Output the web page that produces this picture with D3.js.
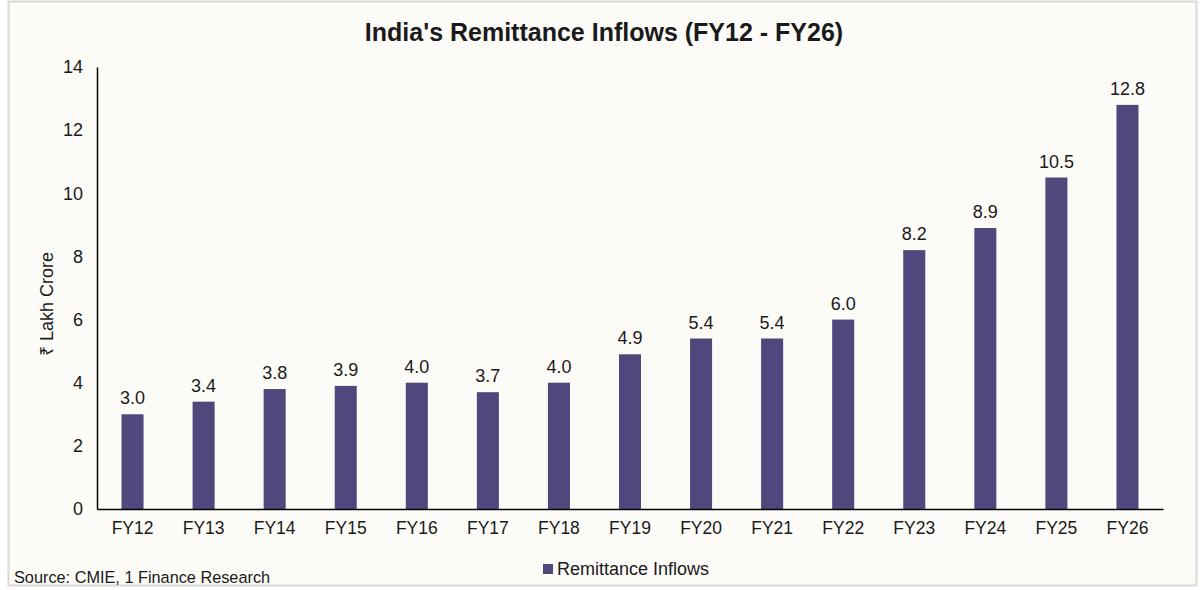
<!DOCTYPE html>
<html>
<head>
<meta charset="utf-8">
<script src="https://cdn.jsdelivr.net/npm/d3@7"></script>
<style>
  body { margin: 0; background: #fff; }
  text { font-family: "Liberation Sans", Arial, sans-serif; fill: #1a1a1a; }
</style>
</head>
<body>
<div id="chart"></div>
<script>
var years = ["FY12", "FY13", "FY14", "FY15", "FY16", "FY17", "FY18", "FY19", "FY20", "FY21", "FY22", "FY23", "FY24", "FY25", "FY26"];
var inflows = [3.0, 3.4, 3.8, 3.9, 4.0, 3.7, 4.0, 4.9, 5.4, 5.4, 6.0, 8.2, 8.9, 10.5, 12.8];
var yTicks = [0, 2, 4, 6, 8, 10, 12, 14];

var width = 1200, height = 590;
var margin = {top: 67, right: 37, bottom: 81, left: 97};
var barColor = "#50487c";

var svg = d3.select("#chart").append("svg")
    .attr("width", width)
    .attr("height", height);

// Frame
svg.append("rect")
    .attr("x", 8.5).attr("y", 1.5)
    .attr("width", 1188).attr("height", 584)
    .attr("fill", "#fcfbf7")
    .attr("stroke", "#d9d9d9")
    .attr("stroke-width", 2);

var x = d3.scaleBand()
    .domain(years)
    .range([margin.left, width - margin.right])
    .paddingInner(0.69)
    .paddingOuter(0.345);

var y = d3.scaleLinear()
    .domain([0, 14])
    .range([height - margin.bottom, margin.top]);

// Title
svg.append("text")
    .attr("x", 604).attr("y", 41)
    .attr("text-anchor", "middle")
    .style("font-size", "25px")
    .style("font-weight", "bold")
    .text("India's Remittance Inflows (FY12 - FY26)");

// Bars
svg.append("g").selectAll("rect")
    .data(inflows)
  .enter().append("rect")
    .attr("x", function(d, i) { return x(years[i]); })
    .attr("y", function(d) { return y(d); })
    .attr("width", x.bandwidth())
    .attr("height", function(d) { return y(0) - y(d); })
    .attr("fill", barColor);

// Value labels
svg.append("g").selectAll("text")
    .data(inflows)
  .enter().append("text")
    .attr("x", function(d, i) { return x(years[i]) + x.bandwidth() / 2; })
    .attr("y", function(d) { return y(d) - 10; })
    .attr("text-anchor", "middle")
    .style("font-size", "18px")
    .text(function(d) { return d3.format(".1f")(d); });

// Y axis
var yAxis = svg.append("g")
    .attr("transform", "translate(" + margin.left + ",0)")
    .call(d3.axisLeft(y).tickValues(yTicks).tickSize(0).tickPadding(14));
yAxis.select(".domain").attr("stroke", "#000").attr("stroke-width", 1.5);
yAxis.selectAll("text").style("font-size", "18px").attr("fill", "#1a1a1a");

// X axis
var xAxis = svg.append("g")
    .attr("transform", "translate(0," + y(0) + ")")
    .call(d3.axisBottom(x).tickSize(0).tickPadding(13));
xAxis.select(".domain").attr("stroke", "#000").attr("stroke-width", 1.5);
xAxis.selectAll("text").style("font-size", "17.5px").attr("fill", "#1a1a1a");

// Y axis title
svg.append("text")
    .attr("transform", "translate(53,304) rotate(-90)")
    .attr("text-anchor", "middle")
    .style("font-size", "18px")
    .text("₹ Lakh Crore");

// Legend
var legend = svg.append("g").attr("transform", "translate(543,569)");
legend.append("rect")
    .attr("x", 0).attr("y", -5)
    .attr("width", 10).attr("height", 10)
    .attr("fill", barColor);
legend.append("text")
    .attr("x", 14).attr("y", 0)
    .attr("dy", "0.35em")
    .style("font-size", "18px")
    .text("Remittance Inflows");

// Source
svg.append("text")
    .attr("x", 14).attr("y", 583)
    .style("font-size", "16.3px")
    .text("Source: CMIE, 1 Finance Research");
</script>
</body>
</html>
